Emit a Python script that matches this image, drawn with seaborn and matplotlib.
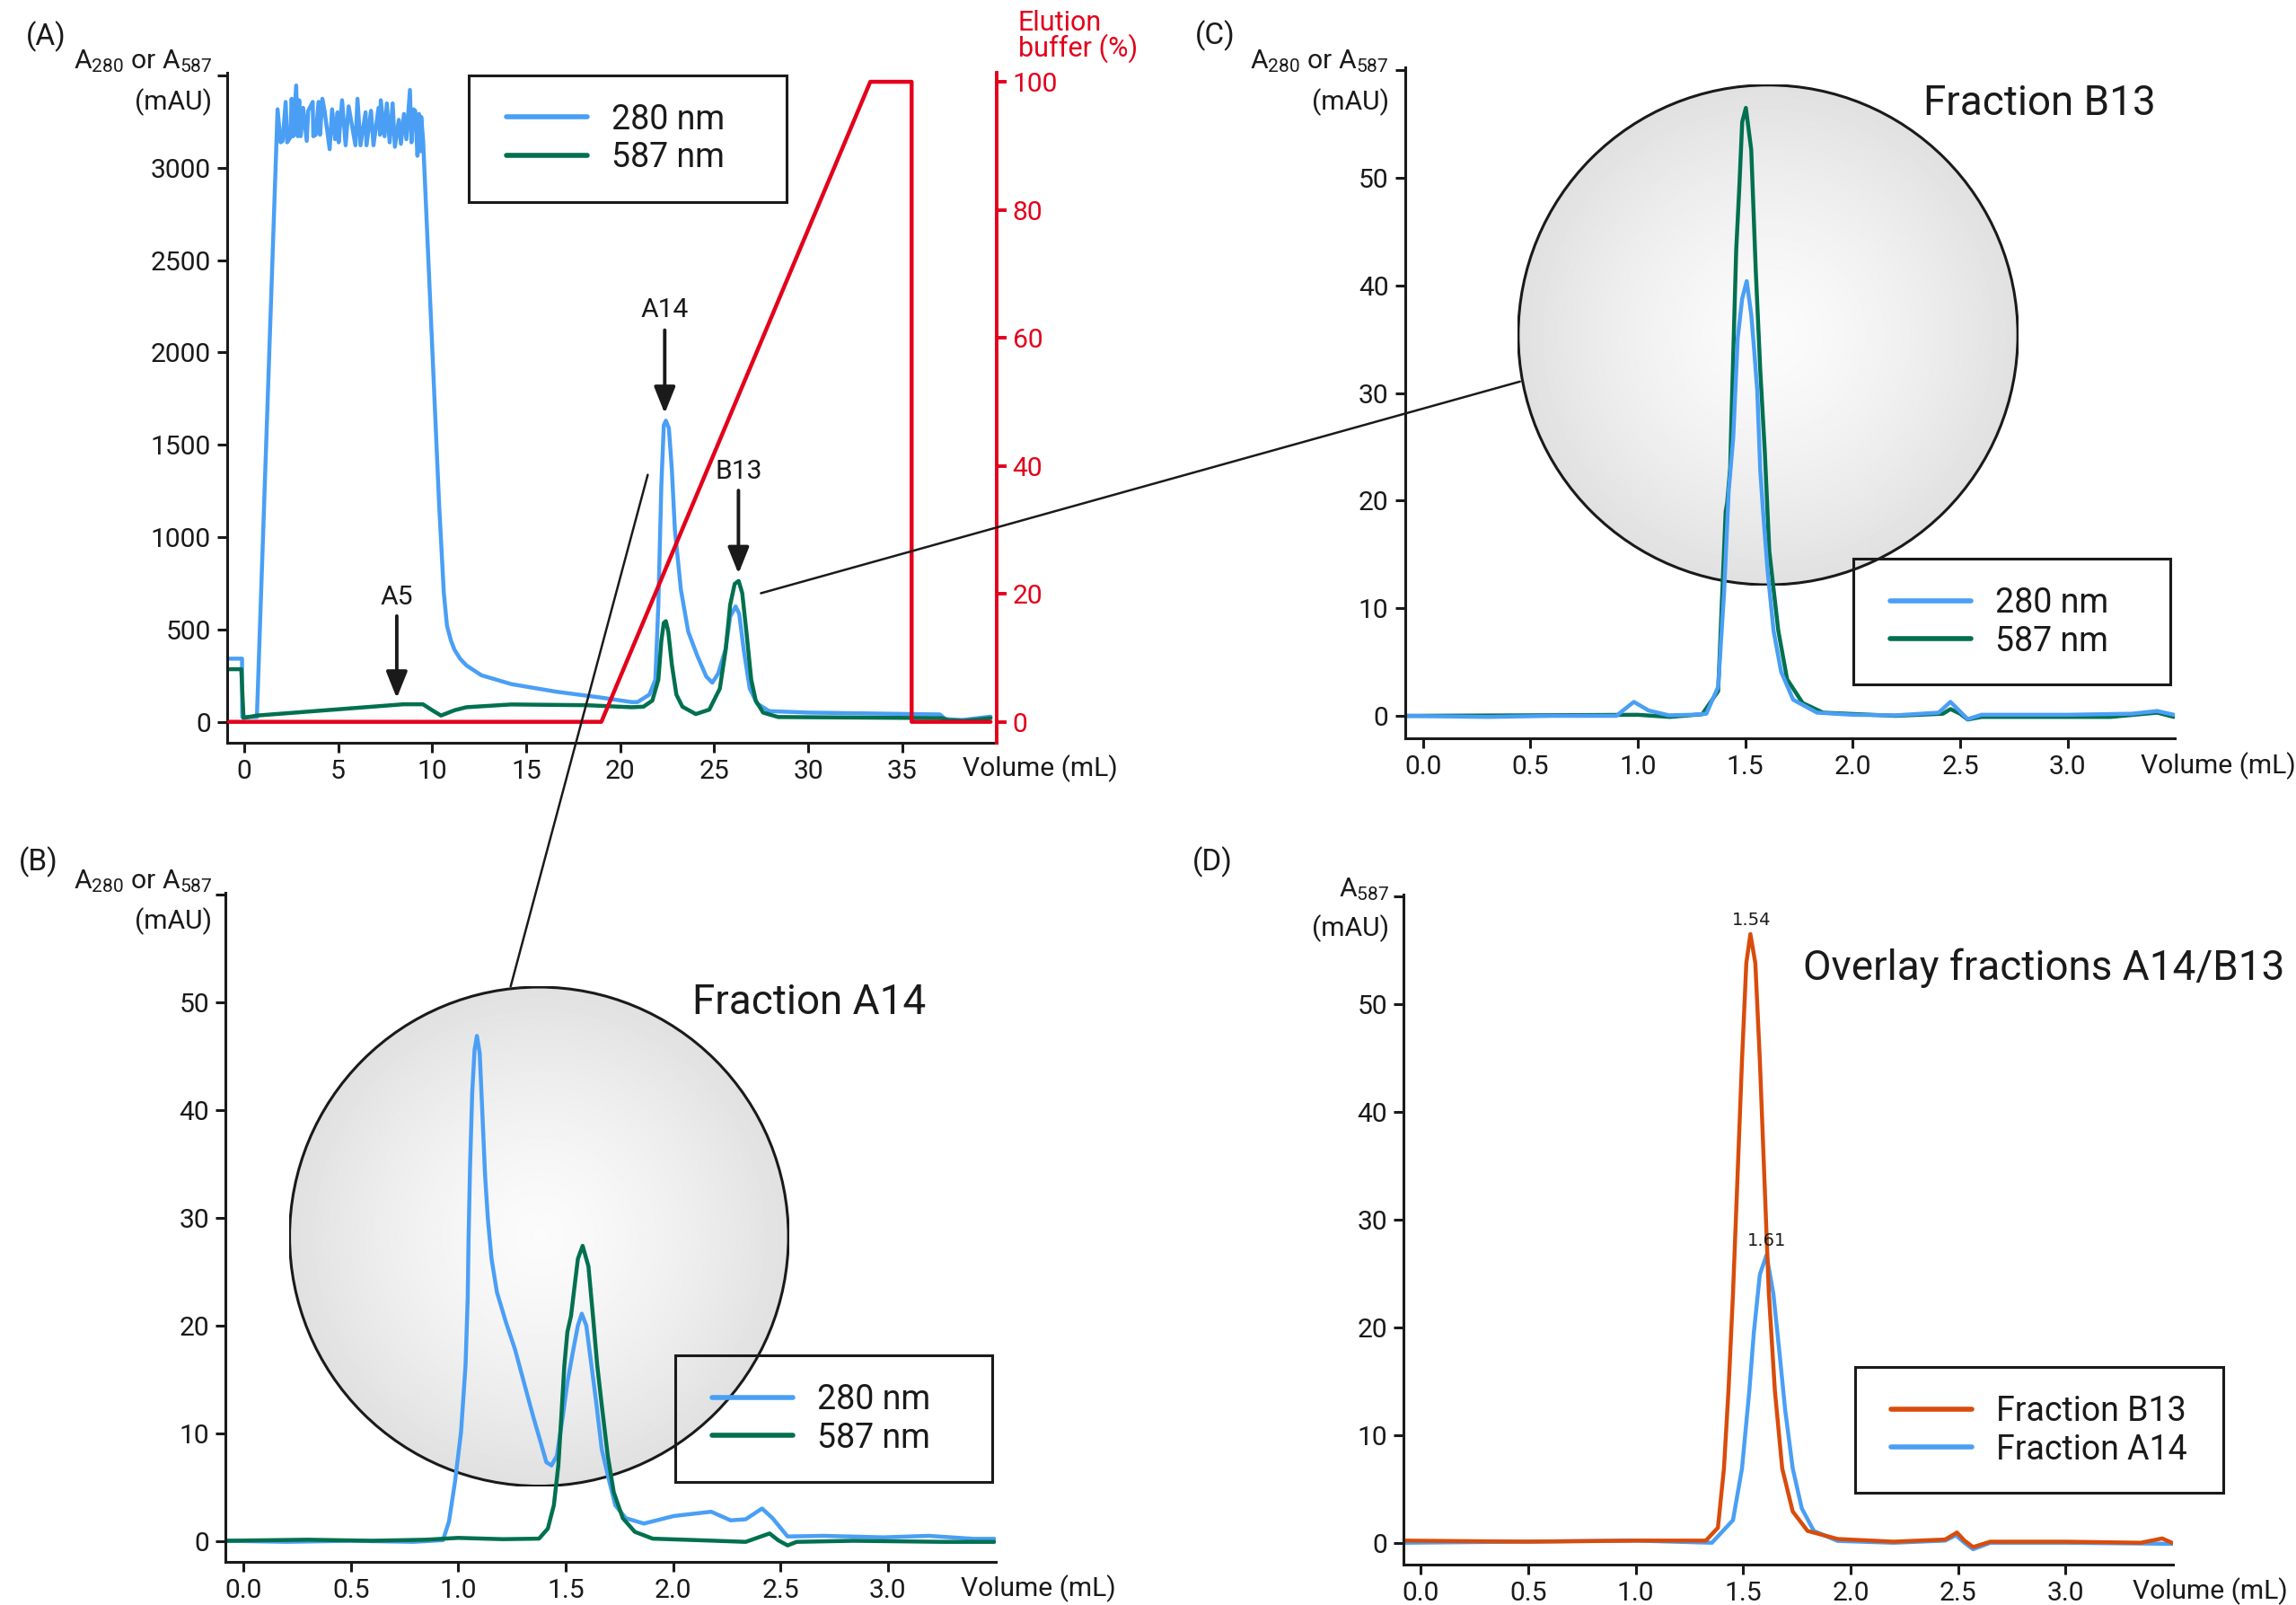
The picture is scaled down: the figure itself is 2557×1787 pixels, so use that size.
import numpy as np
import pandas as pd
import matplotlib
matplotlib.use("Agg")
import matplotlib.pyplot as plt
import seaborn as sns
from matplotlib.patches import Rectangle, Circle
from matplotlib.lines import Line2D
from matplotlib.ticker import FixedLocator

# ---------------- data ----------------
# Panel A: full run, volume (mL) vs absorbance (mAU)
a_280 = [(-0.83, 342), (-0.11, 342), (-0.10, 26), (0.68, 26), (1.78, 3317), (1.94, 3138), (2.05, 3146),
         (2.21, 3357), (2.29, 3138), (2.45, 3163), (2.53, 3374), (2.61, 3171), (2.77, 3446), (2.85, 3171),
         (2.93, 3366), (3.01, 3171), (3.14, 3325), (3.33, 3146), (3.41, 3309), (3.65, 3357), (3.68, 3171),
         (3.81, 3179), (3.96, 3357), (4.04, 3179), (4.16, 3374), (4.28, 3309), (4.55, 3101), (4.68, 3317),
         (4.84, 3155), (4.97, 3301), (5.03, 3138), (5.21, 3366), (5.40, 3122), (5.56, 3333), (5.92, 3122),
         (6.03, 3374), (6.19, 3122), (6.46, 3301), (6.51, 3122), (6.75, 3309), (6.88, 3122), (7.15, 3325),
         (7.23, 3179), (7.27, 3366), (7.47, 3171), (7.59, 3349), (7.74, 3138), (7.90, 3349), (8.02, 3114),
         (8.23, 3260), (8.34, 3130), (8.50, 3292), (8.63, 3155), (8.82, 3422), (8.90, 3138), (9.01, 3317),
         (9.10, 3309), (9.22, 3065), (9.30, 3292), (9.38, 3090), (9.42, 3276), (9.52, 3150), (10.37, 1180),
         (10.62, 700), (10.79, 520), (11.0, 440), (11.19, 390), (11.5, 340), (11.83, 305), (12.62, 252),
         (14.22, 204), (16.6, 163), (19.0, 131), (20.6, 107), (20.92, 107), (21.55, 147), (21.87, 228),
         (22.03, 634), (22.19, 1282), (22.32, 1606), (22.43, 1631), (22.59, 1590), (22.75, 1363),
         (22.91, 1039), (23.23, 715), (23.62, 488), (24.10, 358), (24.58, 245), (24.90, 212), (25.21, 261),
         (25.61, 395), (25.85, 569), (26.14, 625), (26.33, 585), (26.57, 390), (26.89, 180), (27.28, 99),
         (27.92, 58), (30.0, 50), (37.0, 40), (37.3, 15), (38.2, 10), (39.7, 28)]
a_587 = [(-0.83, 285), (-0.15, 285), (-0.03, 21), (0.68, 34), (8.48, 95), (9.51, 95), (10.0, 63),
         (10.47, 34), (11.2, 63), (11.82, 79), (14.2, 94), (18.2, 90), (20.6, 79), (21.24, 82), (21.71, 115),
         (22.03, 228), (22.19, 439), (22.32, 536), (22.43, 545), (22.56, 488), (22.75, 309), (22.99, 147),
         (23.31, 82), (24.02, 42), (24.74, 66), (25.30, 180), (25.61, 390), (25.85, 634), (26.09, 747),
         (26.30, 763), (26.49, 698), (26.73, 471), (26.97, 228), (27.21, 115), (27.60, 50), (28.40, 26),
         (37.1, 20), (37.5, 8), (38.3, 5), (39.7, 20)]
a_buffer = [(-0.8, 0), (19.0, 0), (33.3, 100), (35.5, 100), (35.5, 0), (39.7, 0)]
a_arrows = [("A5", 8.12, 674, 573, 128), ("A14", 22.37, 2230, 2121, 1670), ("B13", 26.29, 1356, 1253, 802)]

# Panel B: fraction A14
b_280 = [(-0.08, 0.0), (0.2, -0.1), (0.5, 0.0), (0.79, -0.1), (0.929, 0.06), (0.957, 1.8), (0.985, 5.5),
         (1.013, 10.1), (1.034, 16.3), (1.044, 22.5), (1.048, 28.0), (1.055, 34.8), (1.065, 41.6),
         (1.076, 45.6), (1.087, 46.9), (1.10, 45.3), (1.113, 39.4), (1.125, 33.9), (1.138, 29.9),
         (1.155, 26.2), (1.18, 23.1), (1.222, 20.3), (1.264, 17.8), (1.306, 14.7), (1.348, 11.6),
         (1.383, 9.2), (1.41, 7.3), (1.434, 7.0), (1.459, 7.9), (1.487, 11.6), (1.508, 14.7), (1.536, 17.8),
         (1.557, 20.0), (1.575, 21.1), (1.596, 20.0), (1.62, 16.3), (1.64, 13.2), (1.668, 8.5), (1.696, 6.1),
         (1.731, 3.3), (1.78, 2.1), (1.864, 1.6), (2.003, 2.3), (2.177, 2.7), (2.268, 1.9), (2.338, 2.0),
         (2.414, 3.0), (2.463, 2.1), (2.533, 0.4), (2.70, 0.46), (2.98, 0.32), (3.19, 0.46), (3.40, 0.18),
         (3.495, 0.18)]
b_587 = [(-0.08, 0.0), (0.3, 0.1), (0.6, 0.0), (0.85, 0.1), (0.999, 0.27), (1.208, 0.15), (1.376, 0.2),
         (1.417, 1.13), (1.445, 3.3), (1.466, 7.0), (1.48, 11.6), (1.494, 16.3), (1.508, 19.4),
         (1.525, 20.9), (1.54, 23.4), (1.557, 26.2), (1.579, 27.4), (1.606, 25.5), (1.627, 20.9),
         (1.647, 16.3), (1.668, 12.6), (1.696, 7.9), (1.724, 4.5), (1.766, 2.1), (1.822, 0.83), (1.905, 0.2),
         (2.14, 0.04), (2.338, -0.1), (2.449, 0.68), (2.49, 0.04), (2.533, -0.43), (2.575, -0.1),
         (2.84, 0.0), (3.26, -0.1), (3.495, -0.1)]

# Panel C: fraction B13
c_280 = [(-0.08, 0.0), (0.3, -0.1), (0.6, 0.0), (0.90, 0.0), (0.982, 1.3), (1.05, 0.5), (1.145, 0.05),
         (1.25, 0.1), (1.319, 0.2), (1.374, 2.7), (1.402, 11.6), (1.423, 20.9), (1.444, 25.8), (1.465, 35.1),
         (1.486, 38.8), (1.507, 40.4), (1.528, 37.3), (1.542, 33.9), (1.556, 30.2), (1.570, 22.8),
         (1.583, 19.0), (1.604, 13.5), (1.632, 7.9), (1.667, 4.1), (1.723, 1.5), (1.834, 0.3), (2.0, 0.1),
         (2.2, 0.05), (2.40, 0.3), (2.455, 1.3), (2.50, 0.4), (2.535, -0.3), (2.6, 0.1), (3.0, 0.1),
         (3.3, 0.2), (3.417, 0.45), (3.495, 0.1)]
c_587 = [(-0.08, 0.0), (0.5, 0.05), (1.0, 0.1), (1.15, -0.1), (1.30, 0.15), (1.374, 2.3), (1.409, 19.0),
         (1.416, 19.8), (1.430, 23.1), (1.437, 28.4), (1.458, 43.3), (1.472, 48.9), (1.486, 55.2),
         (1.503, 56.5), (1.528, 52.6), (1.549, 41.4), (1.570, 32.1), (1.591, 24.6), (1.612, 15.3),
         (1.654, 7.9), (1.695, 3.4), (1.767, 1.2), (1.862, 0.3), (2.2, 0.0), (2.42, 0.2), (2.455, 0.63),
         (2.50, 0.2), (2.535, -0.34), (2.6, -0.1), (3.2, -0.1), (3.417, 0.3), (3.495, -0.1)]

# Panel D: overlay A587
d_b13 = [(-0.08, 0.2), (0.5, 0.1), (1.0, 0.2), (1.327, 0.2), (1.383, 1.4), (1.411, 6.9), (1.432, 14.1),
         (1.453, 23.1), (1.474, 33.9), (1.495, 44.8), (1.515, 53.8), (1.534, 56.5), (1.557, 53.8),
         (1.578, 44.8), (1.599, 33.9), (1.62, 23.1), (1.648, 14.1), (1.682, 6.9), (1.731, 2.9), (1.80, 1.1),
         (1.94, 0.35), (2.2, 0.1), (2.44, 0.3), (2.495, 0.95), (2.53, 0.2), (2.57, -0.4), (2.65, 0.1),
         (3.0, 0.1), (3.35, 0.0), (3.45, 0.4), (3.495, 0.0)]
d_a14 = [(-0.08, 0.0), (1.0, 0.2), (1.355, 0.0), (1.453, 2.1), (1.495, 6.9), (1.529, 14.1), (1.55, 19.5),
         (1.578, 24.9), (1.609, 26.7), (1.641, 23.1), (1.669, 17.7), (1.696, 12.3), (1.731, 6.9),
         (1.773, 3.2), (1.829, 1.1), (1.94, 0.17), (2.2, 0.0), (2.44, 0.2), (2.49, 0.7), (2.53, 0.0),
         (2.57, -0.6), (2.65, 0.0), (3.0, 0.0), (3.5, -0.1)]
d_peaks = [(1.54, 56.5, "1.54"), (1.61, 26.7, "1.61")]

a_xticks = [0, 5, 10, 15, 20, 25, 30, 35]
a_yticks = [0, 500, 1000, 1500, 2000, 2500, 3000]
a_rticks = [0, 20, 40, 60, 80, 100]
z_xticks = [0.0, 0.5, 1.0, 1.5, 2.0, 2.5, 3.0]
z_yticks = [0, 10, 20, 30, 40, 50]

# ---------------- style ----------------
W, H, DPI = 2557, 1787, 200
sns.set_theme(style="ticks")
plt.rcParams["font.family"] = ["Roboto", "DejaVu Sans"]
plt.rcParams["mathtext.fontset"] = "custom"
plt.rcParams["mathtext.rm"] = "Roboto"
plt.rcParams["mathtext.it"] = "Roboto:italic"
plt.rcParams["mathtext.bf"] = "Roboto:bold"

BLUE = "#4a9ff5"
GREEN = "#00704f"
RED = "#e3001b"
ORANGE = "#d94c0b"
INK = "#1a1a1a"
FS = 10.8
LW = 1.6

fig = plt.figure(figsize=(W / DPI, H / DPI), dpi=DPI)
fig.patch.set_facecolor("white")


def rect_px(x0, y0, x1, y1):
    return [x0 / W, 1 - y1 / H, (x1 - x0) / W, (y1 - y0) / H]


def ftxt(x, y, s, **kw):
    kw.setdefault("color", INK)
    kw.setdefault("fontsize", FS)
    fig.text(x / W, 1 - y / H, s, **kw)


def draw(ax, pts, color, lw=LW):
    df = pd.DataFrame(pts, columns=["x", "y"])
    sns.lineplot(data=df, x="x", y="y", ax=ax, color=color, linewidth=lw,
                 estimator=None, sort=False, legend=False)


def style_axes(ax, xt, yt, ytop, fmt):
    for s in ["top", "right"]:
        ax.spines[s].set_visible(False)
    for s in ["left", "bottom"]:
        ax.spines[s].set_linewidth(1.1)
        ax.spines[s].set_color(INK)
    ax.xaxis.set_major_locator(FixedLocator(xt))
    ax.set_xticklabels([fmt(v) for v in xt])
    ax.yaxis.set_major_locator(FixedLocator(list(yt) + [ytop]))
    ax.set_yticklabels([str(v) for v in yt] + [""])
    ax.tick_params(axis="both", direction="out", length=4, width=1.1, color=INK,
                   labelsize=FS, labelcolor=INK, pad=2.5)
    ax.set_xlabel("")
    ax.set_ylabel("")
    ax.set_facecolor("none")
    ax.grid(False)


def add_legend(ax, items, hx, cy, box):
    handles = [Line2D([], [], color=c, lw=2.0) for c, _ in items]
    ax.legend(handles, [l for _, l in items], loc="center left",
              bbox_to_anchor=(hx / W, 1 - cy / H), bbox_transform=fig.transFigure,
              frameon=False, fontsize=13.5, handlelength=2.4, handletextpad=0.72,
              labelspacing=0.15, borderpad=0, borderaxespad=0, labelcolor=INK)
    x0, y0, x1, y1 = box
    fig.add_artist(Rectangle((x0 / W, 1 - y1 / H), (x1 - x0) / W, (y1 - y0) / H,
                             transform=fig.transFigure, fill=False, ec=INK, lw=1.1, zorder=5))


def add_circle(cx, cy, r):
    cax = fig.add_axes(rect_px(cx - r, cy - r, cx + r, cy + r), zorder=0.5)
    cax.set_xlim(-1, 1)
    cax.set_ylim(-1, 1)
    cax.axis("off")
    g = np.linspace(-1, 1, 500)
    X, Y = np.meshgrid(g, g)
    R = np.clip(np.hypot(X, Y), 0, 1)
    img = 0.985 - 0.105 * R ** 1.4
    im = cax.imshow(img, extent=[-1, 1, -1, 1], cmap="gray", vmin=0, vmax=1,
                    origin="lower", interpolation="bilinear", aspect="auto")
    clip = Circle((0, 0), 0.997, transform=cax.transData)
    im.set_clip_path(clip)
    cax.add_patch(Circle((0, 0), 0.997, fill=False, ec=INK, lw=1.1))


fmt_int = lambda v: f"{v:d}"
fmt_1 = lambda v: f"{v:.1f}"

# ---------------- Panel A ----------------
axA = fig.add_axes(rect_px(253, 81.4, 1109.5, 826.7), zorder=1)
draw(axA, a_280, BLUE)
draw(axA, a_587, GREEN)
axA.set_xlim(-0.9, 40.0)
axA.set_ylim(-112, 3513)
style_axes(axA, a_xticks, a_yticks, 3500, fmt_int)
for lab, xv, ty, y0, y1 in a_arrows:
    axA.annotate("", xy=(xv, y1), xytext=(xv, y0),
                 arrowprops=dict(arrowstyle="-|>,head_length=0.45,head_width=0.18",
                                 color=INK, lw=1.4, mutation_scale=20, shrinkA=0, shrinkB=0))
    axA.text(xv, ty, lab, ha="center", va="center", fontsize=FS, color=INK)

axR = axA.twinx()
axR.set_zorder(2)
draw(axR, a_buffer, RED, lw=1.6)
axR.set_ylim(-112 / 34.66, 3513 / 34.66)
for s in ["top", "left", "bottom"]:
    axR.spines[s].set_visible(False)
axR.spines["right"].set_color(RED)
axR.spines["right"].set_linewidth(1.4)
axR.yaxis.set_major_locator(FixedLocator(a_rticks))
axR.set_yticklabels([str(v) for v in a_rticks])
axR.tick_params(axis="y", direction="out", length=4, width=1.4, color=RED,
                labelsize=FS, labelcolor=RED, pad=2.5)
axR.set_ylabel("")
axR.set_xlabel("")
axR.set_facecolor("none")
axR.grid(False)

add_legend(axA, [(BLUE, "280 nm"), (GREEN, "587 nm")], 564, 154.4, (522, 84, 876, 224.5))

ftxt(29, 41, "(A)", ha="left", va="center", fontsize=12)
ftxt(236.3, 75.8, r"A$_{280}$ or A$_{587}$", ha="right", va="baseline")
ftxt(236.3, 122.3, "(mAU)", ha="right", va="baseline")
ftxt(1133.5, 25.3, "Elution", ha="left", va="center", color=RED, fontsize=11)
ftxt(1133.5, 53.3, "buffer (%)", ha="left", va="center", color=RED, fontsize=11)
ftxt(1158, 864.2, "Volume (mL)", ha="center", va="baseline")

# ---------------- circles ----------------
add_circle(600.3, 1376.8, 278.6)
add_circle(1969.0, 372.9, 279.0)

# ---------------- Panel B ----------------
axB = fig.add_axes(rect_px(251.2, 994, 1108.5, 1739), zorder=1)
draw(axB, b_280, BLUE)
draw(axB, b_587, GREEN)
axB.set_xlim(-0.083, 3.50)
axB.set_ylim(-1.96, 60.2)
style_axes(axB, z_xticks, z_yticks, 60, fmt_1)
add_legend(axB, [(BLUE, "280 nm"), (GREEN, "587 nm")], 793.4, 1579.7, (752, 1509.4, 1105, 1649.9))
ftxt(20.7, 960, "(B)", ha="left", va="center", fontsize=12)
ftxt(236.3, 989, r"A$_{280}$ or A$_{587}$", ha="right", va="baseline")
ftxt(236.3, 1033.9, "(mAU)", ha="right", va="baseline")
ftxt(1156.6, 1777.2, "Volume (mL)", ha="center", va="baseline")
ftxt(771, 1115.8, "Fraction A14", ha="left", va="center", fontsize=16.5)

# ---------------- Panel C ----------------
axC = fig.add_axes(rect_px(1564.5, 74.6, 2422.3, 822.2), zorder=1)
draw(axC, c_587, GREEN)
draw(axC, c_280, BLUE)
axC.set_xlim(-0.084, 3.50)
axC.set_ylim(-2.1, 60.3)
style_axes(axC, z_xticks, z_yticks, 60, fmt_1)
add_legend(axC, [(BLUE, "280 nm"), (GREEN, "587 nm")], 2105, 692.8, (2064, 621.8, 2416.7, 762.1))
ftxt(1330.5, 39.3, "(C)", ha="left", va="center", fontsize=12)
ftxt(1546.9, 75.8, r"A$_{280}$ or A$_{587}$", ha="right", va="baseline")
ftxt(1546.9, 122.3, "(mAU)", ha="right", va="baseline")
ftxt(2470.5, 861.4, "Volume (mL)", ha="center", va="baseline")
ftxt(2141.7, 115, "Fraction B13", ha="left", va="center", fontsize=16.5)

# ---------------- Panel D ----------------
axD = fig.add_axes(rect_px(1563, 995.6, 2420, 1741.7), zorder=1)
draw(axD, d_a14, BLUE)
draw(axD, d_b13, ORANGE)
axD.set_xlim(-0.08, 3.50)
axD.set_ylim(-2.0, 60.2)
style_axes(axD, z_xticks, z_yticks, 60, fmt_1)
for xv, yv, lab in d_peaks:
    axD.text(xv, yv + 0.5, lab, ha="center", va="bottom", fontsize=7,
             family="DejaVu Sans", color=INK)
add_legend(axD, [(ORANGE, "Fraction B13"), (BLUE, "Fraction A14")], 2105.7, 1592.8,
           (2065.6, 1522, 2476, 1662.4))
ftxt(1328, 960, "(D)", ha="left", va="center", fontsize=12)
ftxt(1546.9, 998.3, r"A$_{587}$", ha="right", va="baseline")
ftxt(1546.9, 1042, "(mAU)", ha="right", va="baseline")
ftxt(2461.7, 1780, "Volume (mL)", ha="center", va="baseline")
ftxt(2007.9, 1077.6, "Overlay fractions A14/B13", ha="left", va="center", fontsize=16.5)

# ---------------- zoom connector lines ----------------
fig.add_artist(Line2D([721.4 / W, 568.7 / W], [1 - 528.6 / H, 1 - 1098.3 / H],
                      transform=fig.transFigure, color=INK, lw=0.9, zorder=6))
fig.add_artist(Line2D([847.4 / W, 1692.8 / W], [1 - 660.5 / H, 1 - 424.8 / H],
                      transform=fig.transFigure, color=INK, lw=0.9, zorder=6))

fig.savefig("out.png", dpi=DPI, facecolor="white")
